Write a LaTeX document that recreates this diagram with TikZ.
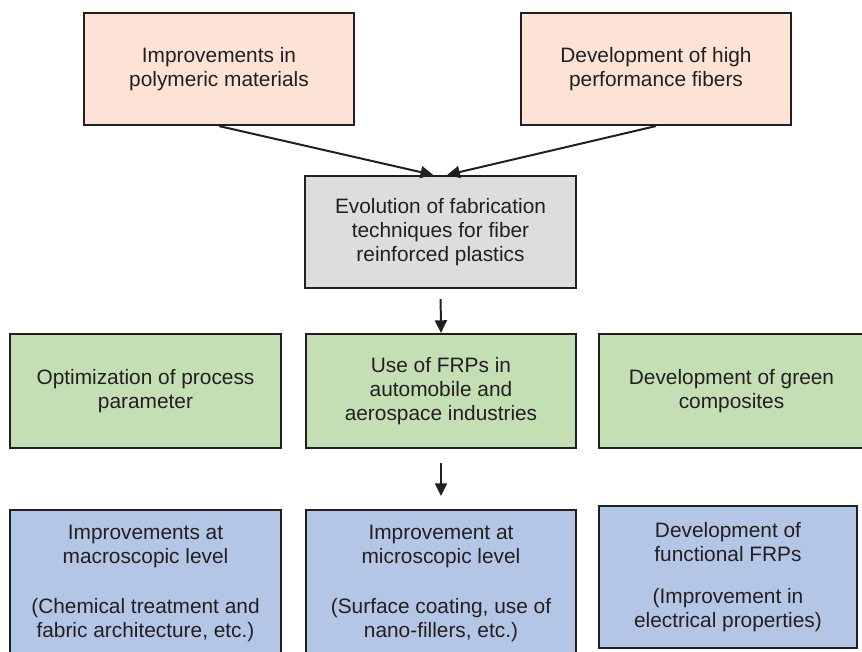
\documentclass[tikz,border=0pt]{standalone}
\usepackage{fontspec}
\setmainfont{Liberation Sans}
\usetikzlibrary{arrows.meta}

\definecolor{ink}{HTML}{231F20}
\definecolor{peach}{HTML}{FCE3D5}
\definecolor{greyfill}{HTML}{DCDDDF}
\definecolor{greenfill}{HTML}{C5DFB5}
\definecolor{bluefill}{HTML}{B4C6E6}

\tikzset{
  box/.style={rectangle, draw=ink, line width=1.8pt, text=ink, inner sep=0pt,
    align=center, font=\fontsize{17.8}{20.5}\selectfont},
  flow/.style={draw=ink, line width=1.7pt, -{Triangle[width=0.36cm,length=0.38cm]}}
}

\begin{document}
\begin{tikzpicture}
  \clip (0,0) rectangle (25.86,-19.53);
  \fill[white] (0,0) rectangle (25.86,-19.53);

  \begin{scope}[every node/.style={box, minimum height=3.36cm}]
    \node[fill=peach, minimum width=8.1cm] (poly) at (6.57,-2.07)
      {Improvements in\\polymeric materials};
    \node[fill=peach, minimum width=8.1cm] (fiber) at (19.68,-2.07)
      {Development of high\\performance fibers};
    \node[fill=greyfill, minimum width=8.13cm] (evol) at (13.215,-6.96)
      {Evolution of fabrication\\techniques for fiber\\reinforced plastics};
  \end{scope}

  \begin{scope}[every node/.style={box, fill=greenfill, minimum height=3.42cm}]
    \node[minimum width=8.13cm] (optim) at (4.365,-11.73)
      {Optimization of process\\parameter};
    \node[minimum width=8.1cm] (usefrp) at (13.23,-11.73)
      {Use of FRPs in\\automobile and\\aerospace industries};
    \node[minimum width=7.95cm] (green) at (21.945,-11.73)
      {Development of green\\composites};
  \end{scope}

  \begin{scope}[every node/.style={box, fill=bluefill}]
    \node[minimum width=8.13cm, minimum height=4.38cm] (macro) at (4.365,-17.49)
      {Improvements at\\macroscopic level\\[0.78cm](Chemical treatment and\\fabric architecture, etc.)};
    \node[minimum width=8.1cm, minimum height=4.38cm] (micro) at (13.23,-17.49)
      {Improvement at\\microscopic level\\[0.78cm](Surface coating, use of\\nano-fillers, etc.)};
    \node[minimum width=7.74cm, minimum height=4.26cm] (funct) at (21.84,-17.31)
      {Development of\\functional FRPs\\[0.54cm](Improvement in\\electrical properties)};
  \end{scope}

  \begin{scope}[flow]
    \draw (poly.south) to ([xshift=-0.22cm]evol.north);
    \draw (fiber.south) to ([xshift=0.2cm]evol.north);
    \draw[shorten <=0.3cm] (evol.south) to (usefrp.north);
    \draw[shorten <=0.42cm, shorten >=0.39cm] (usefrp.south) to (micro.north);
  \end{scope}
\end{tikzpicture}
\end{document}
